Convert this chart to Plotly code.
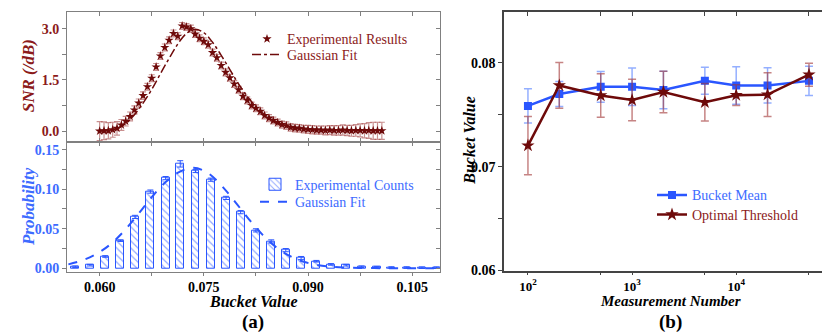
import plotly.graph_objects as go

# ---- panel (a), top: SNR vs bucket value ----
snr_x = [
    0.06000, 0.06063, 0.06125, 0.06188, 0.06250, 0.06313, 0.06375, 0.06438, 0.06500, 0.06563,
    0.06625, 0.06688, 0.06750, 0.06813, 0.06875, 0.06938, 0.07000, 0.07063, 0.07125, 0.07188,
    0.07250, 0.07313, 0.07375, 0.07438, 0.07500, 0.07563, 0.07625, 0.07688, 0.07750, 0.07813,
    0.07875, 0.07938, 0.08000, 0.08063, 0.08125, 0.08188, 0.08250, 0.08313, 0.08375, 0.08438,
    0.08500, 0.08563, 0.08625, 0.08688, 0.08750, 0.08813, 0.08875, 0.08938, 0.09000, 0.09063,
    0.09125, 0.09188, 0.09250, 0.09313, 0.09375, 0.09438, 0.09500, 0.09563, 0.09625, 0.09688,
    0.09750, 0.09813, 0.09875, 0.09938, 0.10000, 0.10063,
]
snr_y = [
    0.00, 0.01, 0.01, 0.04, 0.08, 0.18, 0.29, 0.43, 0.62, 0.82,
    1.04, 1.30, 1.55, 1.88, 2.20, 2.45, 2.66, 2.86, 2.78, 3.08,
    3.05, 3.00, 2.84, 2.72, 2.63, 2.53, 2.30, 2.15, 1.92, 1.72,
    1.56, 1.38, 1.21, 1.02, 0.90, 0.75, 0.67, 0.58, 0.46, 0.38,
    0.31, 0.25, 0.19, 0.16, 0.11, 0.09, 0.08, 0.06, 0.05, 0.04,
    0.03, 0.03, 0.02, 0.03, 0.02, 0.02, 0.03, 0.02, 0.01, 0.02,
    0.02, 0.01, 0.02, 0.01, 0.01, 0.01,
]
snr_err = [
    0.28, 0.26, 0.24, 0.22, 0.20, 0.16, 0.14, 0.13, 0.12, 0.12,
    0.11, 0.10, 0.10, 0.10, 0.10, 0.10, 0.10, 0.10, 0.10, 0.10,
    0.10, 0.10, 0.10, 0.10, 0.10, 0.10, 0.10, 0.10, 0.10, 0.10,
    0.10, 0.10, 0.10, 0.10, 0.10, 0.10, 0.10, 0.10, 0.10, 0.10,
    0.10, 0.10, 0.10, 0.11, 0.11, 0.11, 0.11, 0.11, 0.12, 0.12,
    0.12, 0.12, 0.13, 0.13, 0.14, 0.14, 0.15, 0.15, 0.16, 0.17,
    0.19, 0.21, 0.23, 0.25, 0.25, 0.25,
]
snr_fit_x = [
    0.06000, 0.06125, 0.06250, 0.06375, 0.06500, 0.06625, 0.06750, 0.06875, 0.07000, 0.07125,
    0.07250, 0.07375, 0.07500, 0.07625, 0.07750, 0.07875, 0.08000, 0.08125, 0.08250, 0.08375,
    0.08500, 0.08625, 0.08750, 0.08875, 0.09000, 0.09125, 0.09250, 0.09375, 0.09500, 0.09625,
    0.09750, 0.09875, 0.10000, 0.10063,
]
snr_fit_y = [
    0.00, 0.02, 0.07, 0.22, 0.48, 0.82, 1.22, 1.68, 2.13, 2.55,
    2.86, 2.98, 2.88, 2.60, 2.22, 1.80, 1.38, 1.02, 0.72, 0.48,
    0.31, 0.19, 0.11, 0.07, 0.04, 0.03, 0.02, 0.02, 0.02, 0.02,
    0.02, 0.02, 0.02, 0.02,
]

# ---- panel (a), bottom: histogram of bucket values ----
bin_x = [
    0.0565, 0.0586, 0.0608, 0.0630, 0.0651, 0.0673, 0.0695, 0.0716, 0.0738, 0.0760,
    0.0782, 0.0803, 0.0825, 0.0847, 0.0868, 0.0890, 0.0912, 0.0933, 0.0955, 0.0977,
    0.0999, 0.1020, 0.1042, 0.1064, 0.1085,
]
prob = [
    0.002, 0.004, 0.015, 0.035, 0.065, 0.097, 0.114, 0.132, 0.123, 0.112,
    0.089, 0.071, 0.048, 0.034, 0.023, 0.013, 0.009, 0.005, 0.004, 0.002,
    0.0015, 0.001, 0.001, 0.0008, 0.0008,
]
prob_err = [
    0.001, 0.001, 0.001, 0.001, 0.002, 0.002, 0.002, 0.004, 0.002, 0.002,
    0.002, 0.002, 0.002, 0.002, 0.002, 0.002, 0.001, 0.001, 0.001, 0.001,
    0.001, 0.001, 0.001, 0.001, 0.001,
]
prob_fit_x = [
    0.0555, 0.0575, 0.0595, 0.0615, 0.0635, 0.0655, 0.0675, 0.0695, 0.0715, 0.0735,
    0.0755, 0.0775, 0.0795, 0.0815, 0.0835, 0.0855, 0.0875, 0.0895, 0.0915, 0.0935,
    0.0955, 0.0975, 0.0995, 0.1015, 0.1035, 0.1055, 0.1075, 0.1090,
]
prob_fit_y = [
    0.005, 0.010, 0.018, 0.030, 0.047, 0.068, 0.090, 0.109, 0.122, 0.127,
    0.121, 0.105, 0.084, 0.062, 0.042, 0.026, 0.015, 0.008, 0.004, 0.002,
    0.001, 0.0005, 0.0003, 0.0001, 0.0, 0.0, 0.0, 0.0,
]

# ---- panel (b): bucket value vs measurement number ----
meas = [100, 200, 500, 1000, 2000, 5000, 10000, 20000, 50000]
bucket_mean = [0.07585, 0.07700, 0.07769, 0.07770, 0.07738, 0.07826, 0.07782, 0.07782, 0.07826]
bucket_mean_err = [0.00164, 0.0012, 0.00148, 0.0018, 0.0018, 0.0013, 0.0018, 0.0017, 0.0014]
opt_thr = [0.07203, 0.07782, 0.07685, 0.07641, 0.07719, 0.07620, 0.07688, 0.07694, 0.07885]
opt_thr_err = [0.0028, 0.0022, 0.0021, 0.0020, 0.0020, 0.0018, 0.0010, 0.0021, 0.0011]

W, H = 830, 333
FONT = "Liberation Serif, Times New Roman, serif"
RED = "#6e0a0a"
RED_TXT = "#8b1a1a"
BLUE = "#2a56ff"
BLUE_TXT = "#3d6bff"


def px_x(p):
    return p / W


def px_y(p):
    return 1 - p / H


fig = go.Figure()

# top left: SNR
fig.add_trace(go.Scatter(
    x=snr_x, y=snr_y, mode="markers", name="Experimental Results",
    marker=dict(symbol="star", size=7, color=RED),
    error_y=dict(type="data", array=snr_err, color="rgba(165,70,70,0.6)", thickness=1.2, width=3),
    xaxis="x", yaxis="y", legend="legend",
))
fig.add_trace(go.Scatter(
    x=snr_fit_x, y=snr_fit_y, mode="lines", name="Gaussian Fit",
    line=dict(color=RED, width=1.5, dash="dashdot", shape="spline"),
    xaxis="x", yaxis="y", legend="legend4",
))

# bottom left: histogram
fig.add_trace(go.Bar(
    x=bin_x, y=prob, width=0.00115, name="Experimental Counts",
    marker=dict(color="white", line=dict(color=BLUE, width=1),
                pattern=dict(shape="\\", fgcolor=BLUE, bgcolor="white", size=5, solidity=0.25)),
    error_y=dict(type="data", array=prob_err, color=BLUE, thickness=1, width=3),
    xaxis="x2", yaxis="y2", legend="legend2",
))
fig.add_trace(go.Scatter(
    x=prob_fit_x, y=prob_fit_y, mode="lines", name="Gaussian Fit",
    line=dict(color=BLUE, width=2, dash="dash", shape="spline"),
    xaxis="x2", yaxis="y2", legend="legend5",
))

# right: measurement number
fig.add_trace(go.Scatter(
    x=meas, y=bucket_mean, mode="lines+markers", name="Bucket Mean",
    line=dict(color=BLUE, width=2.5), marker=dict(symbol="square", size=8, color=BLUE),
    error_y=dict(type="data", array=bucket_mean_err, color="rgba(60,110,255,0.55)", thickness=1.5, width=4),
    xaxis="x3", yaxis="y3", legend="legend3",
))
fig.add_trace(go.Scatter(
    x=meas, y=opt_thr, mode="lines+markers", name="Optimal Threshold",
    line=dict(color=RED, width=2.5), marker=dict(symbol="star", size=10, color=RED),
    error_y=dict(type="data", array=opt_thr_err, color="rgba(160,50,50,0.6)", thickness=1.5, width=4),
    xaxis="x3", yaxis="y3", legend="legend6",
))

# empty traces so the overlay (inside-tick) axes get drawn
for xa, ya in [("x", "y4"), ("x5", "y2"), ("x2", "y5"), ("x6", "y3"), ("x3", "y6")]:
    fig.add_trace(go.Scatter(x=[None], y=[None], xaxis=xa, yaxis=ya, showlegend=False, hoverinfo="skip"))

L_DOM = [px_x(59), px_x(432)]
R_DOM = [px_x(496), px_x(824)]
TOP_DOM = [px_y(137), px_y(4)]
BOT_DOM = [px_y(270), px_y(137)]
R_YDOM = [px_y(269), px_y(4)]

a_range = [0.0553, 0.1090]
a_ticks = [0.0525, 0.060, 0.0675, 0.075, 0.0825, 0.090, 0.0975, 0.105, 0.1125]
a_text = ["", "0.060", "", "0.075", "", "0.090", "", "0.105", ""]
snr_range = [-0.31, 3.49]
snr_ticks = [0.0, 0.75, 1.5, 2.25, 3.0]
snr_text = ["0.0", "", "1.5", "", "3.0"]
prob_range = [-0.004, 0.160]
prob_ticks = [0.0, 0.025, 0.05, 0.075, 0.10, 0.125, 0.15]
prob_text = ["0.00", "", "0.05", "", "0.10", "", "0.15"]
b_range = [1.77, 4.92]
b_ticks = [100, 500, 1000, 5000, 10000, 50000]
b_text = ["10<sup>2</sup>", "", "10<sup>3</sup>", "", "10<sup>4</sup>", ""]
bv_range = [0.06, 0.0849]
bv_ticks = [0.06, 0.065, 0.07, 0.075, 0.08]
bv_text = ["0.06", "", "0.07", "", "0.08"]

GRAY = "#808080"
DARK = "#444444"


def tfont(color="black", size=14):
    return dict(family=FONT, size=size, color=color, weight="bold")


def leg(x, y, color):
    # one legend box per entry, placed by the text's left edge and centre line
    return dict(x=px_x(x - 48), y=px_y(y), xanchor="left", yanchor="middle",
                bgcolor="rgba(0,0,0,0)", itemwidth=30,
                font=dict(family=FONT, size=14, color=color))


common = dict(showgrid=False, zeroline=False, tickmode="array", tickwidth=1)

fig.update_layout(
    width=W, height=H, margin=dict(l=0, r=0, t=0, b=0),
    font=dict(family=FONT),
    paper_bgcolor="white", plot_bgcolor="white", showlegend=True,
    bargap=0,
    xaxis=dict(domain=L_DOM, anchor="y", range=a_range, tickvals=a_ticks, showticklabels=False,
               ticks="inside", ticklen=4, mirror="ticks", showline=True, linecolor=GRAY,
               tickcolor=GRAY, **common),
    yaxis=dict(domain=TOP_DOM, anchor="x", range=snr_range, tickvals=snr_ticks, ticktext=snr_text,
               ticks="outside", ticklen=4, showline=True, mirror=True, linecolor=GRAY, tickcolor=GRAY,
               tickfont=tfont(RED_TXT), **common),
    yaxis4=dict(overlaying="y", side="right", anchor="x", range=snr_range, tickvals=snr_ticks,
                showticklabels=False, ticks="inside", ticklen=4, showline=False, tickcolor=GRAY, **common),
    xaxis2=dict(domain=L_DOM, anchor="y2", range=a_range, tickvals=a_ticks, ticktext=a_text,
                ticks="outside", ticklen=3, showline=True, mirror=True, linecolor=GRAY, tickcolor=GRAY,
                tickfont=tfont(), **common),
    xaxis5=dict(overlaying="x2", side="top", anchor="y2", range=a_range, tickvals=a_ticks,
                showticklabels=False, ticks="inside", ticklen=4, showline=False, tickcolor=GRAY, **common),
    yaxis2=dict(domain=BOT_DOM, anchor="x2", range=prob_range, tickvals=prob_ticks, ticktext=prob_text,
                ticks="outside", ticklen=4, showline=True, mirror=True, linecolor=GRAY, tickcolor=GRAY,
                tickfont=tfont(BLUE_TXT), **common),
    yaxis5=dict(overlaying="y2", side="right", anchor="x2", range=prob_range, tickvals=prob_ticks,
                showticklabels=False, ticks="inside", ticklen=4, showline=False, tickcolor=GRAY, **common),
    xaxis3=dict(domain=R_DOM, anchor="y3", type="log", range=b_range, tickvals=b_ticks, ticktext=b_text,
                ticks="outside", ticklen=3, showline=True, mirror=True, linecolor=DARK, linewidth=1.5,
                tickcolor=DARK, tickfont=tfont(size=13), **common),
    xaxis6=dict(overlaying="x3", side="top", anchor="y3", type="log", range=b_range, tickvals=b_ticks,
                showticklabels=False, ticks="inside", ticklen=4, showline=False, tickcolor=DARK, **common),
    yaxis3=dict(domain=R_YDOM, anchor="x3", range=bv_range, tickvals=bv_ticks, ticktext=bv_text,
                ticks="outside", ticklen=4, showline=True, mirror=True, linecolor=DARK, linewidth=1.5,
                tickcolor=DARK, tickfont=tfont(), **common),
    yaxis6=dict(overlaying="y3", side="right", anchor="x3", range=bv_range, tickvals=bv_ticks,
                showticklabels=False, ticks="inside", ticklen=4, showline=False, tickcolor=DARK, **common),
    legend=leg(287, 32, RED_TXT),
    legend4=leg(287, 48, RED_TXT),
    legend2=leg(295, 181, BLUE_TXT),
    legend5=leg(295, 199, BLUE_TXT),
    legend3=leg(692, 192, BLUE_TXT),
    legend6=leg(692, 212, RED_TXT),
)

notes = [
    ("<b><i>SNR (/dB)</i></b>", 20, 70, -90, RED_TXT, 17),
    ("<b><i>Probability</i></b>", 20, 204, -90, BLUE_TXT, 17),
    ("<b><i>Bucket Value</i></b>", 245, 301, 0, "black", 16),
    ("<b>(a)</b>", 245, 322, 0, "black", 19),
    ("<b><i>Bucket Value</i></b>", 462, 136, -90, "black", 16),
    ("<b><i>Measurement Number</i></b>", 662, 300, 0, "black", 15),
    ("<b>(b)</b>", 662, 322, 0, "black", 19),
]
for text, x, y, ang, color, size in notes:
    fig.add_annotation(text=text, x=px_x(x), y=px_y(y), xref="paper", yref="paper",
                       showarrow=False, textangle=ang, xanchor="center", yanchor="middle",
                       font=dict(family=FONT, size=size, color=color))

fig.write_html("out.html")
